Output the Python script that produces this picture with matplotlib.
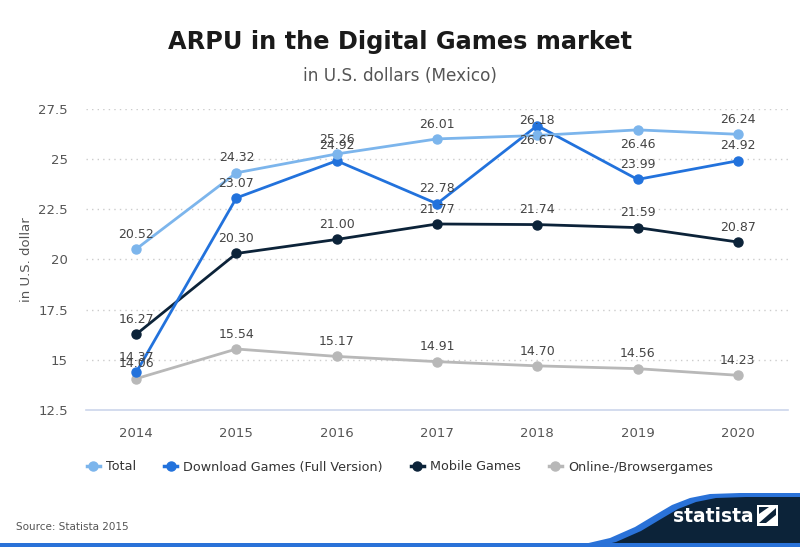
import matplotlib

matplotlib.use("Agg")
import matplotlib.pyplot as plt
from matplotlib.lines import Line2D
from matplotlib.patches import Polygon, Rectangle

# --- data ---
years = ["2014", "2015", "2016", "2017", "2018", "2019", "2020"]
total = [20.52, 24.32, 25.26, 26.01, 26.18, 26.46, 26.24]
download = [14.37, 23.07, 24.92, 22.78, 26.67, 23.99, 24.92]
mobile = [16.27, 20.30, 21.00, 21.77, 21.74, 21.59, 20.87]
online = [14.06, 15.54, 15.17, 14.91, 14.70, 14.56, 14.23]

series_names = ["Total", "Download Games (Full Version)", "Mobile Games",
                "Online-/Browsergames"]
series_values = [total, download, mobile, online]
colors = ["#7cb5ec", "#2272dc", "#0c2339", "#b8b8b8"]
y_ticks = [12.5, 15, 17.5, 20, 22.5, 25, 27.5]
y_tick_labels = ["12.5", "15", "17.5", "20", "22.5", "25", "27.5"]

# labels that sit below their point (series index, year index)
labels_below = {(0, 5), (1, 4)}

W, H = 800, 547
fig = plt.figure(figsize=(W / 100, H / 100), dpi=100)
fig.patch.set_facecolor("white")

# background overlay in pixel coords (logo, swoosh)
bg = fig.add_axes([0, 0, 1, 1], zorder=0)
bg.set_xlim(0, W)
bg.set_ylim(H, 0)
bg.axis("off")

ax = fig.add_axes([86 / W, 1 - 410 / H, 702 / W, 301 / H], zorder=2)
ax.patch.set_alpha(0)

x = list(range(len(years)))
for i, (name, vals, col) in enumerate(zip(series_names, series_values, colors)):
    ax.plot(x, vals, color=col, lw=2.0, marker="o", ms=6.5, zorder=3 + (3 - i) * 0.1,
            solid_capstyle="round")
    for j, v in enumerate(vals):
        below = (i, j) in labels_below
        ax.annotate(f"{v:.2f}", (j, v), xytext=(0, -6 if below else 6),
                    textcoords="offset points", ha="center",
                    va="top" if below else "bottom", fontsize=9, color="#444444",
                    zorder=6)

ax.set_xlim(-0.5, len(years) - 0.5)
ax.set_ylim(12.5, 27.5)
ax.set_xticks(x)
ax.set_xticklabels(years)
ax.set_yticks(y_ticks)
ax.set_yticklabels(y_tick_labels)
for yt in y_ticks[1:]:
    ax.axhline(yt, color="#cccccc", lw=1, ls=(0, (1, 3)), zorder=1)
for side in ["top", "right", "left"]:
    ax.spines[side].set_visible(False)
ax.spines["bottom"].set_color("#ccd6eb")
ax.spines["bottom"].set_linewidth(1.2)
ax.tick_params(axis="both", length=0, labelsize=9.5, labelcolor="#555555")
ax.tick_params(axis="x", pad=12)
ax.tick_params(axis="y", pad=13)
ax.set_ylabel("in U.S. dollar", fontsize=9.5, color="#555555", labelpad=4)

# titles
fig.text(0.5, 1 - 42 / H, "ARPU in the Digital Games market", ha="center",
         va="center", fontsize=17.3, fontweight="bold", color="#1a1a1a")
fig.text(0.5, 1 - 76 / H, "in U.S. dollars (Mexico)", ha="center", va="center",
         fontsize=12.2, color="#555555")

# legend
handles = [Line2D([0], [0], color=c, lw=2.5, marker="o", ms=6.5) for c in colors]
fig.legend(handles, series_names, loc="center", bbox_to_anchor=(0.5, 1 - 467 / H),
           ncol=4, frameon=False, fontsize=9.2, handlelength=1.0, handletextpad=0.5,
           columnspacing=2.2, labelcolor="#333333")

# source
fig.text(16 / W, 1 - 527 / H, "Source: Statista 2015", ha="left", va="center",
         fontsize=7.5, color="#555555")

# statista swoosh
curve = [(550, 547), (580, 545), (610, 538), (635, 527), (655, 515), (672, 505),
         (690, 498), (710, 494), (740, 493), (800, 493)]
bg.add_patch(Polygon(curve + [(800, 547)], closed=True, color="#2a72d8", lw=0))
shifted = [(px + 6, py + 4) for px, py in curve]
bg.add_patch(Polygon(shifted + [(800, 547)], closed=True, color="#0c2339", lw=0))
bg.add_patch(Rectangle((0, 543), W, 4, color="#2a72d8", lw=0))
bg.text(713, 516, "statista", ha="center", va="center", fontsize=13.5,
        fontweight="bold", color="white")
bg.add_patch(Rectangle((757, 505), 21, 21, color="white", lw=0))
bg.add_patch(Polygon([(759, 523), (776, 508), (776, 515), (766, 523)], closed=True,
                     color="#0c2339", lw=0))
bg.add_patch(Polygon([(759, 514), (769, 507), (759, 507)], closed=True,
                     color="#0c2339", lw=0))

fig.savefig("out.png", dpi=100, facecolor="white")
